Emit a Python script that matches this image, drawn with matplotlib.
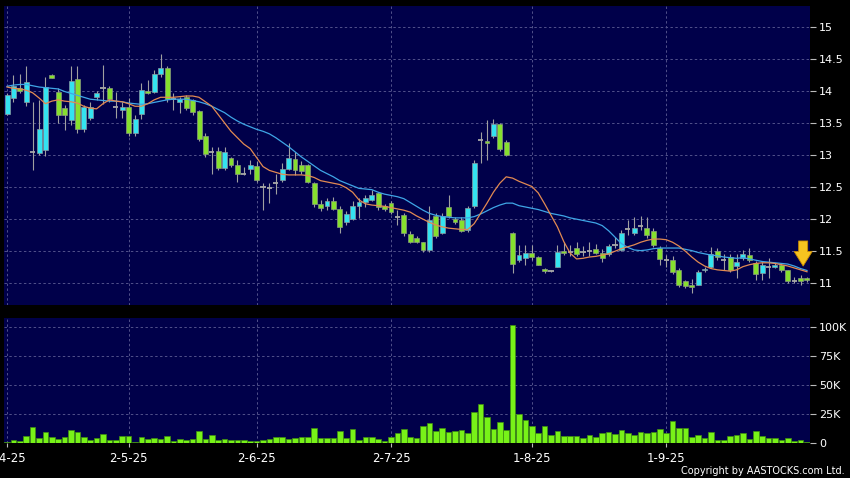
import matplotlib
matplotlib.use("Agg")
import matplotlib.pyplot as plt
import numpy as np

# ---------------- data ----------------
opens = [13.64, 13.89, 14.05, 13.83, 13.05, 13.03, 13.08, 14.25, 13.98, 13.74,
         13.54, 14.18, 13.41, 13.57, 13.91, 14.04, 14.04, 13.75, 13.70, 13.75,
         13.35, 13.64, 14.00, 13.98, 14.27, 14.35, 13.87, 13.82, 13.90, 13.86,
         13.68, 13.29, 13.05, 13.06, 12.79, 12.96, 12.85, 12.71, 12.78, 12.83,
         12.50, 12.49, 12.57, 12.61, 12.78, 12.94, 12.85, 12.84, 12.57, 12.23,
         12.20, 12.28, 12.16, 11.95, 12.00, 12.20, 12.27, 12.30, 12.41, 12.21,
         12.25, 12.03, 12.06, 11.77, 11.70, 11.64, 11.52, 12.05, 11.78, 12.19,
         12.00, 11.99, 11.83, 12.20, 13.23, 13.22, 13.29, 13.48, 13.20, 11.79,
         11.36, 11.40, 11.48, 11.41, 11.23, 11.19, 11.26, 11.51, 11.49, 11.55,
         11.49, 11.51, 11.53, 11.48, 11.46, 11.60, 11.52, 11.84, 11.79, 11.89,
         11.87, 11.82, 11.55, 11.36, 11.37, 11.20, 11.03, 10.97, 10.98, 11.20,
         11.26, 11.50, 11.36, 11.41, 11.27, 11.39, 11.44, 11.32, 11.16, 11.26,
         11.25, 11.28, 11.20, 11.03, 11.09, 11.09]
highs = [13.96, 14.25, 14.26, 14.38, 13.82, 13.86, 14.22, 14.27, 14.04, 13.78,
         14.39, 14.38, 13.78, 13.82, 14.00, 14.40, 14.07, 13.99, 13.83, 13.89,
         13.63, 14.12, 14.17, 14.33, 14.57, 14.38, 13.97, 13.91, 13.94, 13.88,
         13.70, 13.35, 13.12, 13.12, 13.12, 12.97, 12.92, 12.82, 12.92, 12.90,
         12.56, 12.56, 12.71, 12.87, 13.18, 13.05, 12.90, 12.86, 12.58, 12.30,
         12.33, 12.34, 12.20, 12.12, 12.28, 12.33, 12.38, 12.46, 12.43, 12.24,
         12.28, 12.14, 12.09, 11.81, 11.73, 11.65, 12.20, 12.10, 12.10, 12.38,
         12.04, 12.03, 12.20, 12.93, 13.36, 13.55, 13.56, 13.50, 13.24, 11.80,
         11.60, 11.60, 11.60, 11.43, 11.24, 11.21, 11.60, 11.64, 11.60, 11.64,
         11.58, 11.64, 11.62, 11.54, 11.62, 11.72, 11.83, 11.99, 12.03, 12.05,
         12.03, 11.86, 11.58, 11.44, 11.42, 11.24, 11.05, 11.07, 11.21, 11.26,
         11.56, 11.55, 11.45, 11.45, 11.45, 11.52, 11.55, 11.35, 11.34, 11.39,
         11.32, 11.31, 11.21, 11.10, 11.13, 11.10]
lows = [13.62, 13.83, 13.97, 13.76, 12.77, 13.00, 12.98, 14.20, 13.50, 13.39,
        13.47, 13.34, 13.36, 13.55, 13.85, 13.80, 13.83, 13.57, 13.57, 13.29,
        13.29, 13.56, 13.95, 13.96, 14.22, 13.82, 13.70, 13.65, 13.70, 13.62,
        13.22, 12.97, 12.71, 12.77, 12.77, 12.82, 12.58, 12.69, 12.71, 12.58,
        12.14, 12.25, 12.40, 12.58, 12.77, 12.69, 12.71, 12.56, 12.19, 12.12,
        12.15, 12.15, 11.78, 11.91, 11.99, 12.02, 12.19, 12.28, 12.15, 12.12,
        12.08, 11.91, 11.73, 11.63, 11.63, 11.49, 11.49, 11.70, 11.77, 12.02,
        11.93, 11.80, 11.80, 12.17, 12.87, 12.93, 13.27, 13.07, 12.99, 11.16,
        11.34, 11.28, 11.36, 11.28, 11.16, 11.17, 11.25, 11.44, 11.42, 11.42,
        11.42, 11.42, 11.46, 11.34, 11.42, 11.55, 11.51, 11.76, 11.76, 11.83,
        11.70, 11.57, 11.29, 11.26, 11.15, 10.95, 10.92, 10.85, 10.97, 11.18,
        11.24, 11.37, 11.21, 11.18, 11.08, 11.36, 11.33, 11.05, 11.05, 11.09,
        11.24, 11.18, 11.01, 11.00, 10.98, 11.02]
closes = [13.93, 14.07, 14.00, 14.14, 13.05, 13.41, 14.06, 14.20, 13.62, 13.62,
          14.16, 13.41, 13.75, 13.75, 13.96, 14.04, 13.88, 13.75, 13.75, 13.35,
          13.56, 14.02, 13.97, 14.26, 14.35, 13.88, 13.87, 13.88, 13.74, 13.67,
          13.25, 13.01, 13.05, 12.79, 13.04, 12.85, 12.70, 12.71, 12.85, 12.61,
          12.50, 12.49, 12.57, 12.78, 12.96, 12.77, 12.75, 12.58, 12.23, 12.18,
          12.28, 12.16, 11.88, 12.08, 12.20, 12.26, 12.33, 12.37, 12.19, 12.16,
          12.11, 12.03, 11.78, 11.65, 11.64, 11.52, 11.99, 11.74, 12.05, 12.05,
          11.95, 11.81, 12.18, 12.87, 13.23, 13.18, 13.48, 13.10, 13.00, 11.30,
          11.44, 11.48, 11.41, 11.29, 11.19, 11.19, 11.49, 11.47, 11.49, 11.46,
          11.49, 11.51, 11.48, 11.40, 11.58, 11.60, 11.79, 11.84, 11.87, 11.89,
          11.75, 11.59, 11.38, 11.36, 11.18, 10.97, 10.96, 10.94, 11.18, 11.23,
          11.46, 11.41, 11.36, 11.20, 11.33, 11.46, 11.37, 11.14, 11.29, 11.26,
          11.29, 11.20, 11.03, 11.03, 11.03, 11.05]
volume_k = [1.4, 2.9, 2.0, 6.3, 13.8, 4.9, 10.0, 5.5, 4.0, 5.2,
            11.2, 9.8, 5.7, 3.2, 4.3, 8.0, 2.9, 2.9, 6.0, 6.3,
            0.9, 5.7, 4.0, 4.9, 3.7, 6.3, 2.0, 3.7, 2.9, 3.4,
            10.6, 3.7, 7.2, 2.6, 3.4, 3.2, 2.9, 2.6, 2.0, 2.3,
            2.9, 3.4, 5.2, 5.2, 4.0, 4.9, 5.5, 5.2, 12.9, 4.6,
            4.6, 4.6, 10.3, 4.9, 12.1, 2.9, 5.5, 5.5, 3.4, 2.0,
            5.7, 9.2, 12.1, 5.2, 4.9, 15.2, 17.2, 10.6, 12.9, 9.5,
            10.6, 11.2, 8.6, 26.7, 34.2, 22.4, 12.4, 18.1, 11.5, 101.7,
            25.3, 20.1, 14.7, 8.6, 15.2, 7.2, 10.9, 6.3, 6.6, 6.6,
            4.6, 6.9, 5.5, 9.2, 9.8, 8.0, 11.2, 8.6, 7.2, 9.5,
            8.9, 9.8, 12.1, 8.6, 19.3, 13.5, 12.9, 5.5, 7.2, 4.6,
            9.8, 2.9, 2.9, 6.3, 7.5, 8.9, 3.7, 10.9, 6.6, 4.6,
            4.9, 2.6, 4.9, 2.0, 3.2, 0.9]
ma10 = [14.06, 14.04, 14.03, 14.01, 13.97, 13.89, 13.80, 13.84, 13.86, 13.84,
        13.83, 13.81, 13.76, 13.73, 13.72, 13.80, 13.86, 13.84, 13.83, 13.80,
        13.76, 13.76, 13.80, 13.86, 13.90, 13.90, 13.90, 13.91, 13.92, 13.92,
        13.90, 13.83, 13.76, 13.63, 13.50, 13.37, 13.27, 13.17, 13.10, 12.96,
        12.82, 12.76, 12.73, 12.70, 12.69, 12.69, 12.69, 12.68, 12.65, 12.60,
        12.58, 12.56, 12.54, 12.49, 12.42, 12.30, 12.24, 12.22, 12.21, 12.20,
        12.18, 12.16, 12.14, 12.11, 12.05, 12.00, 11.95, 11.91, 11.88, 11.86,
        11.85, 11.84, 11.84, 11.93, 12.09, 12.25, 12.42, 12.56, 12.66, 12.64,
        12.59, 12.55, 12.51, 12.41, 12.24, 12.06, 11.88, 11.65, 11.47, 11.38,
        11.39, 11.41, 11.42, 11.44, 11.46, 11.50, 11.54, 11.57, 11.60, 11.64,
        11.67, 11.69, 11.69, 11.68, 11.64, 11.58, 11.50, 11.41, 11.33, 11.27,
        11.23, 11.21, 11.20, 11.19, 11.21, 11.26, 11.29, 11.31, 11.32, 11.32,
        11.31, 11.29, 11.27, 11.24, 11.21, 11.18]
ma20 = [14.07, 14.09, 14.10, 14.10, 14.08, 14.06, 14.05, 14.04, 14.03, 13.99,
        13.96, 13.93, 13.90, 13.87, 13.86, 13.85, 13.84, 13.84, 13.83, 13.81,
        13.80, 13.79, 13.80, 13.82, 13.84, 13.86, 13.87, 13.87, 13.87, 13.85,
        13.83, 13.80, 13.76, 13.71, 13.66, 13.59, 13.53, 13.48, 13.44, 13.40,
        13.37, 13.33, 13.27, 13.20, 13.13, 13.05, 12.97, 12.90, 12.83, 12.76,
        12.71, 12.66, 12.60, 12.56, 12.52, 12.48, 12.47, 12.46, 12.42, 12.39,
        12.37, 12.35, 12.32, 12.26, 12.20, 12.14, 12.09, 12.06, 12.04, 12.03,
        12.02, 12.02, 12.02, 12.04, 12.08, 12.13, 12.18, 12.22, 12.25, 12.25,
        12.21, 12.19, 12.17, 12.15, 12.12, 12.09, 12.07, 12.05, 12.02, 12.00,
        11.98, 11.96, 11.94, 11.90, 11.82, 11.72, 11.62, 11.56, 11.52, 11.51,
        11.52, 11.54, 11.55, 11.55, 11.55, 11.55, 11.53, 11.51, 11.48, 11.46,
        11.44, 11.43, 11.41, 11.40, 11.39, 11.40, 11.38, 11.36, 11.34, 11.33,
        11.32, 11.31, 11.30, 11.27, 11.23, 11.20]
date_labels = ["1-4-25", "2-5-25", "2-6-25", "2-7-25", "1-8-25", "1-9-25"]
date_index = [0, 19, 39, 60, 82, 103]
price_ticks = [11, 11.5, 12, 12.5, 13, 13.5, 14, 14.5, 15]
price_labels = ["11", "11.5", "12", "12.5", "13", "13.5", "14", "14.5", "15"]
vol_ticks = [0, 25, 50, 75, 100]
vol_labels = ["0", "25K", "50K", "75K", "100K"]

# ---------------- style ----------------
BG = "#000000"
PANEL = "#00004a"
GRID = "#51518a"
UP = "#34e3f0"
DOWN = "#86e02e"
DOJI = "#a8a8a8"
WICK = "#a0a0a0"
VOL = "#78f218"

o = np.array(opens); h = np.array(highs); l = np.array(lows); c = np.array(closes)
x = np.arange(len(o))

fig = plt.figure(figsize=(8.5, 4.78), dpi=100, facecolor=BG)
ax = fig.add_axes([4/850, 1-305/478, 806/850, 299/478], facecolor=PANEL)
axv = fig.add_axes([4/850, 1-443.3/478, 806/850, 125/478], facecolor=PANEL, sharex=ax)

for a in (ax, axv):
    for s in a.spines.values():
        s.set_visible(False)
    a.set_axisbelow(True)
    a.grid(True, color=GRID, linestyle=(0, (2.5, 2.5)), linewidth=0.7)

# candles
ax.vlines(x, l, h, color=WICK, linewidth=0.8, zorder=2)
up = c > o
down = c < o
flat = c == o
ax.bar(x[up], (c - o)[up], bottom=o[up], width=0.78, color=UP,
       edgecolor="#8a9aa0", linewidth=0.5, zorder=3)
ax.bar(x[down], (o - c)[down], bottom=c[down], width=0.78, color=DOWN,
       edgecolor="#8a9a80", linewidth=0.5, zorder=3)
ax.hlines(c[flat], x[flat] - 0.42, x[flat] + 0.42, color=DOJI, linewidth=1.3, zorder=3)

# moving averages
ax.plot(x, ma20, color="#3fa6e6", linewidth=0.9, zorder=4)
ax.plot(x, ma10, color="#e28a52", linewidth=0.9, zorder=4)

# arrow over the latest bar
ax.annotate("", xy=(x[-1] - 0.6, h[-1] + 0.17), xytext=(x[-1] - 0.6, h[-1] + 0.56),
            arrowprops=dict(arrowstyle="simple,head_length=0.8,head_width=1.0,tail_width=0.5",
                            fc="#f6c320", ec="#c98a00", lw=0.6,
                            mutation_scale=13, shrinkA=0, shrinkB=0), zorder=6)

ax.set_xlim(-0.47, len(o) - 0.53)
ax.set_ylim(10.662, 15.323)
ax.yaxis.tick_right()
ax.set_yticks(price_ticks)
ax.set_yticklabels(price_labels)
ax.tick_params(axis="y", colors="#bbbbbb", labelcolor="white", length=4, width=0.8,
               pad=2.5, labelsize=8)
ax.tick_params(axis="x", length=0, labelbottom=False)
ax.set_xticks(date_index)

# volume
axv.bar(x, volume_k, width=0.85, color=VOL, edgecolor="#3f8f10", linewidth=0.5, zorder=3)
axv.set_ylim(0, 107.8)
axv.yaxis.tick_right()
axv.set_yticks(vol_ticks)
axv.set_yticklabels(vol_labels)
axv.tick_params(axis="y", colors="#bbbbbb", labelcolor="white", length=4, width=0.8,
                pad=2.5, labelsize=8)
axv.set_xticks(date_index)
axv.set_xticklabels(date_labels)
axv.tick_params(axis="x", colors="#bbbbbb", labelcolor="white", length=3, width=0.8,
                pad=3.5, labelsize=8.5)

fig.text(845/850, 1 - 471/478, "Copyright by AASTOCKS.com Ltd.", ha="right", va="center",
         color="white", fontsize=7)

fig.savefig("out.png", dpi=100, facecolor=BG)
